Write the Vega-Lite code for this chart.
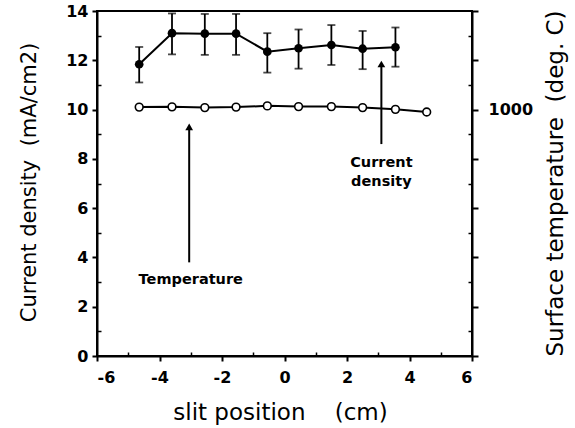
{
  "$schema": "https://vega.github.io/schema/vega-lite/v6.json",
  "width": 375,
  "height": 345,
  "autosize": {"type": "none"},
  "padding": {"left": 97, "top": 11, "right": 103, "bottom": 72},
  "background": "white",
  "config": {
    "view": {"stroke": "black", "strokeWidth": 2},
    "font": "DejaVu Sans",
    "axis": {
      "domainColor": "black", "domainWidth": 2, "tickColor": "black", "tickWidth": 2,
      "labelFont": "DejaVu Sans", "labelFontWeight": "bold", "labelFontSize": 16, "labelColor": "black",
      "titleFont": "DejaVu Sans", "titleFontWeight": "normal", "titleFontSize": 23, "titleColor": "black",
      "grid": false
    }
  },
  "datasets": {
    "cd": [
      {"x": -4.65, "cd": 11.84, "lo": 11.1, "hi": 12.54},
      {"x": -3.6, "cd": 13.1, "lo": 12.24, "hi": 13.9},
      {"x": -2.55, "cd": 13.08, "lo": 12.22, "hi": 13.88},
      {"x": -1.55, "cd": 13.08, "lo": 12.22, "hi": 13.88},
      {"x": -0.55, "cd": 12.35, "lo": 11.5, "hi": 13.1},
      {"x": 0.45, "cd": 12.49, "lo": 11.66, "hi": 13.25},
      {"x": 1.5, "cd": 12.62, "lo": 11.81, "hi": 13.43},
      {"x": 2.5, "cd": 12.47, "lo": 11.64, "hi": 13.19},
      {"x": 3.55, "cd": 12.53, "lo": 11.74, "hi": 13.33}
    ],
    "temp": [
      {"x": -4.65, "t": 1010},
      {"x": -3.6, "t": 1011},
      {"x": -2.55, "t": 1008},
      {"x": -1.55, "t": 1010},
      {"x": -0.55, "t": 1015},
      {"x": 0.45, "t": 1012},
      {"x": 1.5, "t": 1012},
      {"x": 2.5, "t": 1008},
      {"x": 3.55, "t": 1001},
      {"x": 4.55, "t": 990}
    ],
    "arrows": [
      {"x": -3.05, "y": 3.8, "tip": 9.3},
      {"x": 3.1, "y": 8.6, "tip": 11.85}
    ],
    "labels": [
      {"x": -3.0, "y": 3.07, "label": "Temperature"},
      {"x": 3.1, "y": 7.85, "label": "Current\ndensity"}
    ]
  },
  "layer": [
    {
      "layer": [
        {
          "data": {"name": "cd"},
          "mark": {"type": "line", "color": "black", "strokeWidth": 2},
          "encoding": {
            "x": {"field": "x", "type": "quantitative", "scale": {"domain": [-6, 6]},
                  "axis": {"values": [-6, -4, -2, 0, 2, 4, 6], "title": "slit position\u00a0\u00a0\u00a0\u00a0(cm)", "tickSize": 5, "labelPadding": 8,
                           "labelExpr": "replace(datum.label, '\u2212', '-')",
                           "titleX": 183, "titleY": 56, "titleAlign": "center", "titleBaseline": "middle"}},
            "y": {"field": "cd", "type": "quantitative", "scale": {"domain": [0, 14]}, "title": "Current density\u00a0\u00a0(mA/cm2)",
                  "axis": {"values": [0, 2, 4, 6, 8, 10, 12, 14], "tickSize": 5, "labelPadding": 4, "titleFontSize": 21,
                           "titleX": -68, "titleY": 171, "titleAlign": "center", "titleBaseline": "middle"}}
          }
        },
        {
          "data": {"name": "cd"},
          "mark": {"type": "errorbar", "color": "black", "ticks": {"size": 8, "thickness": 1.8, "color": "black"}, "rule": {"strokeWidth": 1.8}},
          "encoding": {
            "x": {"field": "x", "type": "quantitative"},
            "y": {"field": "lo", "type": "quantitative", "title": "Current density\u00a0\u00a0(mA/cm2)"},
            "y2": {"field": "hi"}
          }
        },
        {
          "data": {"name": "cd"},
          "mark": {"type": "point", "filled": true, "color": "black", "size": 75, "opacity": 1},
          "encoding": {
            "x": {"field": "x", "type": "quantitative"},
            "y": {"field": "cd", "type": "quantitative", "title": "Current density\u00a0\u00a0(mA/cm2)"}
          }
        },
        {
          "data": {"name": "arrows"},
          "mark": {"type": "rule", "color": "black", "strokeWidth": 2},
          "encoding": {
            "x": {"field": "x", "type": "quantitative"},
            "y": {"field": "y", "type": "quantitative", "title": "Current density\u00a0\u00a0(mA/cm2)"},
            "y2": {"field": "tip"}
          }
        },
        {
          "data": {"name": "arrows"},
          "mark": {"type": "point", "shape": "triangle-up", "filled": true, "color": "black", "size": 60, "opacity": 1},
          "encoding": {
            "x": {"field": "x", "type": "quantitative"},
            "y": {"field": "tip", "type": "quantitative", "title": "Current density\u00a0\u00a0(mA/cm2)"}
          }
        },
        {
          "data": {"name": "labels"},
          "mark": {"type": "text", "font": "DejaVu Sans", "fontWeight": "bold", "fontSize": 14.5, "color": "black", "lineBreak": "\n", "lineHeight": 19, "align": "center", "baseline": "middle"},
          "encoding": {
            "x": {"field": "x", "type": "quantitative"},
            "y": {"field": "y", "type": "quantitative", "title": "Current density\u00a0\u00a0(mA/cm2)"},
            "text": {"field": "label"}
          }
        }
      ]
    },
    {
      "layer": [
        {
          "data": {"name": "temp"},
          "mark": {"type": "line", "color": "black", "strokeWidth": 2},
          "encoding": {
            "x": {"field": "x", "type": "quantitative", "axis": null},
            "y": {"field": "t", "type": "quantitative", "scale": {"domain": [0, 1400]}, "title": "Surface temperature\u00a0\u00a0(deg. C)",
                  "axis": {"orient": "right", "values": [0, 200, 400, 600, 800, 1000, 1200, 1400], "labelExpr": "datum.value == 1000 ? '1000' : ''",
                           "titleAngle": -90, "tickSize": 6, "labelPadding": 10,
                           "titleX": 83, "titleY": 172, "titleAlign": "center", "titleBaseline": "middle"}}
          }
        },
        {
          "data": {"name": "temp"},
          "mark": {"type": "point", "filled": true, "fill": "white", "stroke": "black", "strokeWidth": 1.6, "size": 60, "opacity": 1},
          "encoding": {
            "x": {"field": "x", "type": "quantitative", "axis": null},
            "y": {"field": "t", "type": "quantitative", "title": "Surface temperature\u00a0\u00a0(deg. C)"}
          }
        }
      ]
    },
    {
      "data": {"name": "cd"},
      "mark": {"type": "point", "opacity": 0},
      "encoding": {
        "x": {"field": "x", "type": "quantitative",
              "axis": {"orient": "bottom", "values": [-5, -3, -1, 1, 3, 5], "labels": false, "domain": false, "tickSize": -4, "tickWidth": 1.5, "title": null}},
        "y": {"field": "cd", "type": "quantitative", "scale": {"domain": [0, 14]},
              "axis": {"orient": "left", "values": [1, 3, 5, 7, 9, 11, 13], "labels": false, "domain": false, "tickSize": -4, "tickWidth": 1.5, "title": null}}
      }
    },
    {
      "data": {"name": "temp"},
      "mark": {"type": "point", "opacity": 0},
      "encoding": {
        "x": {"field": "x", "type": "quantitative", "axis": null},
        "y": {"field": "t", "type": "quantitative", "scale": {"domain": [0, 1400]},
              "axis": {"orient": "right", "values": [100, 300, 500, 700, 900, 1100, 1300], "labels": false, "domain": false, "tickSize": -4, "tickWidth": 1.5, "title": null}}
      }
    }
  ],
  "resolve": {"scale": {"y": "independent"}, "axis": {"x": "independent", "y": "independent"}}
}
